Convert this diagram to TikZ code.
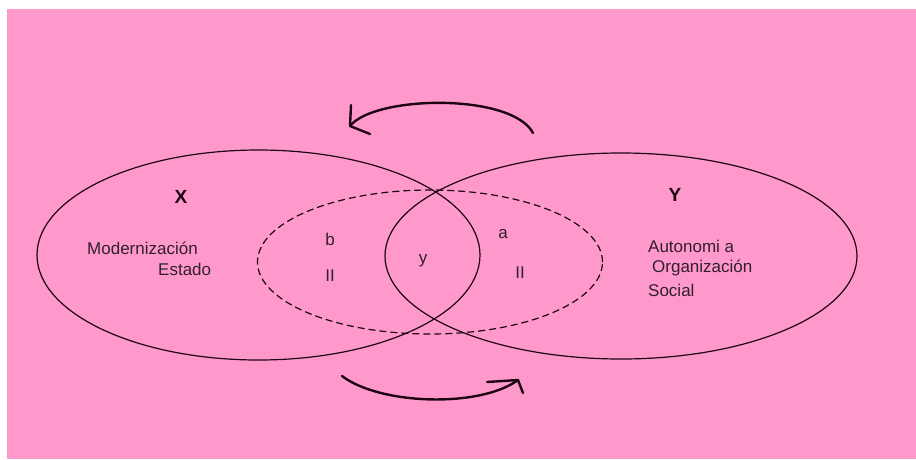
\documentclass[tikz,border=0pt]{standalone}
\usepackage{fontspec}
\setmainfont{Liberation Sans}
\usetikzlibrary{shapes.geometric}
\definecolor{bgpink}{RGB}{255,153,204}
\definecolor{inkline}{RGB}{30,5,20}
\definecolor{inktext}{RGB}{50,30,50}
\begin{document}
\begin{tikzpicture}[x=1pt,y=-1pt,
  setshape/.style={draw=inkline, line width=1.2pt, ellipse, inner sep=0pt},
  dashshape/.style={draw=inkline, line width=1.2pt, ellipse, inner sep=0pt, dash pattern=on 7pt off 4pt},
  lbl/.style={text=inktext, font=\fontsize{17}{19}\selectfont, inner sep=0pt},
  biglbl/.style={text=inkline, font=\fontsize{19}{21}\selectfont\bfseries, inner sep=0pt},
  arrowline/.style={draw=inkline, line width=2.4pt, line cap=round, line join=round}]
\useasboundingbox (0,0) rectangle (916,459);
\fill[white] (0,0) rectangle (916,459);
\fill[bgpink] (7,9) rectangle (916,459);
% sets
\node[setshape, minimum width=443pt, minimum height=210pt] (setX) at (258.5,255) {};
\node[setshape, minimum width=472pt, minimum height=206pt] (setY) at (621,256) {};
\node[dashshape, minimum width=345pt, minimum height=144pt] (mid) at (430,262) {};
% labels
\node[biglbl] (lX) at (181,197) {X};
\node[biglbl] (lY) at (675,195) {Y};
\node[lbl, anchor=west] (mod) at (87,248) {Modernización};
\node[lbl, anchor=west] (est) at (158,269) {Estado};
\node[lbl] (lb) at (330,239) {b};
\node[lbl] (lbII) at (330,276) {II};
\node[lbl] (ly) at (423,261) {y};
\node[lbl] (la) at (503,234) {a};
\node[lbl] (laII) at (520,273) {II};
\node[lbl, anchor=west] (aut) at (648,246) {Autonomi a};
\node[lbl, anchor=west] (org) at (652,268) {Organización};
\node[lbl, anchor=west] (soc) at (648,290) {Social};
% top arrow
\coordinate (tS) at (533,133);
\coordinate (tT) at (350,126);
\coordinate (tA) at (351,105);
\coordinate (tB) at (370,134);
\draw[arrowline] (tS) .. controls (512,93) and (375,95) .. (tT);
\draw[arrowline] (tT) -- (tA);
\draw[arrowline] (tT) -- (tB);
% bottom arrow
\coordinate (bS) at (342,376);
\coordinate (bT) at (518,380);
\coordinate (bA) at (487,382);
\coordinate (bB) at (523,393);
\draw[arrowline] (bS) .. controls (380,405) and (480,408) .. (bT);
\draw[arrowline] (bT) -- (bA);
\draw[arrowline] (bT) -- (bB);
\end{tikzpicture}
\end{document}
